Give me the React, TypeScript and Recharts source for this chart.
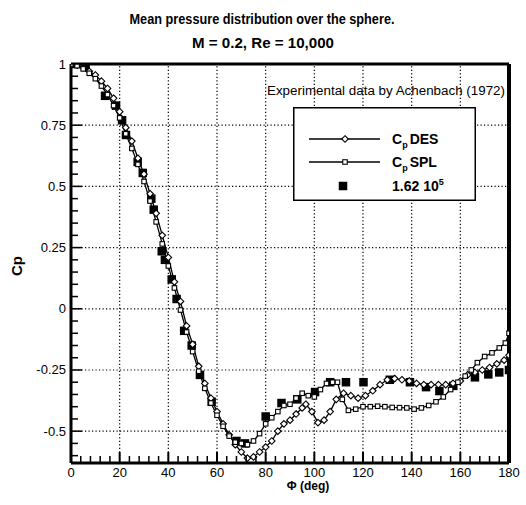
import React from 'react';
import { ComposedChart, Line, Scatter, XAxis, YAxis, ReferenceLine, Legend } from 'recharts';

const FONT = '"Liberation Sans", Arial, Helvetica, sans-serif';

// C_p DES (open diamonds)
const desPhi = [0, 2.5, 5, 7.5, 10, 12.5, 15, 17.5, 20, 22.5, 25, 27.5, 30, 32.5, 35, 37.5, 40, 42.5, 45, 47.5, 50, 52.5, 55, 57.5, 60, 62.5, 65, 67.5, 70, 72.5, 75, 77.5, 80, 82.5, 85, 87.5, 90, 92.5, 95, 96.5, 99, 101.5, 104, 106.5, 109, 112, 115, 118, 121, 124, 127, 130, 133, 136, 139, 142, 145, 148, 151, 154, 157, 160, 163, 166, 169, 172, 175, 178, 180];
const desCp = [1.0, 0.995, 0.985, 0.97, 0.955, 0.93, 0.9, 0.86, 0.805, 0.74, 0.685, 0.615, 0.55, 0.47, 0.39, 0.3, 0.21, 0.11, 0.03, -0.07, -0.145, -0.235, -0.305, -0.365, -0.42, -0.47, -0.515, -0.555, -0.585, -0.61, -0.605, -0.585, -0.565, -0.54, -0.5, -0.47, -0.455, -0.43, -0.405, -0.39, -0.42, -0.465, -0.455, -0.42, -0.37, -0.345, -0.355, -0.365, -0.355, -0.335, -0.31, -0.29, -0.285, -0.29, -0.295, -0.305, -0.31, -0.31, -0.31, -0.31, -0.305, -0.295, -0.27, -0.26, -0.25, -0.24, -0.225, -0.21, -0.19];

// C_p SPL (open squares)
const splPhi = [0, 2.5, 5, 7.5, 10, 12.5, 15, 17.5, 20, 22.5, 25, 27.5, 30, 32.5, 35, 37.5, 40, 42.5, 45, 47.5, 50, 52.5, 55, 57.5, 60, 62.5, 65, 67.5, 70, 72.5, 75, 77.5, 80, 82.5, 85, 87.5, 90, 92.5, 95, 97.5, 100, 102.5, 105, 107.5, 109.5, 111.5, 114, 117, 120, 123, 126, 129, 132, 135, 138, 141, 144, 147, 150, 153, 156, 159, 162, 164.5, 167, 170, 173, 176, 178.5, 180];
const splCp = [1.0, 0.993, 0.98, 0.962, 0.94, 0.91, 0.875, 0.83, 0.78, 0.715, 0.655, 0.59, 0.52, 0.44, 0.355, 0.265, 0.175, 0.085, -0.005, -0.095, -0.175, -0.255, -0.325, -0.385, -0.435, -0.48, -0.52, -0.545, -0.55, -0.555, -0.54, -0.51, -0.47, -0.445, -0.42, -0.395, -0.39, -0.365, -0.345, -0.355, -0.36, -0.33, -0.305, -0.3, -0.3, -0.37, -0.415, -0.41, -0.4, -0.4, -0.398, -0.4, -0.403, -0.404, -0.405, -0.41, -0.405, -0.395, -0.38, -0.36, -0.33, -0.3, -0.275, -0.25, -0.22, -0.195, -0.18, -0.16, -0.14, -0.1];

// Experimental data, Achenbach (1972), Re = 1.62e5 (filled squares)
const expPhi = [0, 6, 14, 18.5, 21, 22.6, 27.4, 29.5, 33, 34, 37.3, 38.6, 41.4, 43.4, 46.5, 49.6, 53, 57.8, 68, 71.5, 80, 86.5, 93, 100.3, 106.5, 113, 120.2, 131, 139.3, 145.9, 151.4, 157.1, 166, 171.5, 176, 180];
const expCp = [1.0, 0.99, 0.87, 0.83, 0.77, 0.71, 0.6, 0.555, 0.45, 0.405, 0.235, 0.2, 0.12, 0.04, -0.09, -0.15, -0.27, -0.38, -0.54, -0.55, -0.44, -0.385, -0.37, -0.34, -0.3, -0.3, -0.3, -0.29, -0.3, -0.32, -0.336, -0.315, -0.28, -0.268, -0.26, -0.25];

const xMajorTicks = [0, 20, 40, 60, 80, 100, 120, 140, 160, 180];
const xAllTicks = [0, 4, 8, 12, 16, 20, 24, 28, 32, 36, 40, 44, 48, 52, 56, 60, 64, 68, 72, 76, 80, 84, 88, 92, 96, 100, 104, 108, 112, 116, 120, 124, 128, 132, 136, 140, 144, 148, 152, 156, 160, 164, 168, 172, 176, 180];
const yMajorTicks = [-0.5, -0.25, 0, 0.25, 0.5, 0.75, 1];
const yMajorLabels = ['-0.5', '-0.25', '0', '0.25', '0.5', '0.75', '1'];
const yAllTicks = [-0.6, -0.55, -0.5, -0.45, -0.4, -0.35, -0.3, -0.25, -0.2, -0.15, -0.1, -0.05, 0, 0.05, 0.1, 0.15, 0.2, 0.25, 0.3, 0.35, 0.4, 0.45, 0.5, 0.55, 0.6, 0.65, 0.7, 0.75, 0.8, 0.85, 0.9, 0.95, 1];
const xGrid = [20, 40, 60, 80, 100, 120, 140, 160];
const yGrid = [-0.5, -0.25, 0, 0.25, 0.5, 0.75];

const desData = desPhi.map((phi, i) => ({ phi, cp: desCp[i] }));
const splData = splPhi.map((phi, i) => ({ phi, cp: splCp[i] }));
const expData = expPhi.map((phi, i) => ({ phi, cp: expCp[i] }));

const DiamondDot = (props: any) => {
  const { cx, cy } = props;
  if (cx == null || cy == null) return null;
  const r = 3.3;
  return (
    <path
      key={props.key}
      d={`M${cx},${cy - r}L${cx + r},${cy}L${cx},${cy + r}L${cx - r},${cy}Z`}
      fill="#fff"
      stroke="#000"
      strokeWidth={1.1}
    />
  );
};

const SquareDot = (props: any) => {
  const { cx, cy } = props;
  if (cx == null || cy == null) return null;
  const s = 4.5;
  return <rect key={props.key} x={cx - s / 2} y={cy - s / 2} width={s} height={s} fill="#fff" stroke="#000" strokeWidth={1.1} />;
};

const ExpSquare = (props: any) => {
  const { cx, cy } = props;
  if (cx == null || cy == null) return null;
  const s = 8.5;
  return <rect x={cx - s / 2} y={cy - s / 2} width={s} height={s} fill="#000" />;
};

const XTick = (props: any) => {
  const { x, y, payload } = props;
  const v = payload.value;
  const major = xMajorTicks.includes(v);
  return (
    <g>
      <line x1={x} x2={x} y1={y} y2={y - (major ? 11 : 7)} stroke="#000" strokeWidth={major ? 2 : 1.5} />
      {major && (
        <text x={x} y={y + 14} textAnchor="middle" fontFamily={FONT} fontSize={13} fill="#000">
          {v}
        </text>
      )}
    </g>
  );
};

const YTick = (props: any) => {
  const { x, y, payload } = props;
  const v = payload.value;
  const idx = yMajorTicks.findIndex((t) => Math.abs(t - v) < 1e-6);
  const major = idx >= 0;
  return (
    <g>
      <line x1={x} x2={x + (major ? 11 : 7)} y1={y} y2={y} stroke="#000" strokeWidth={1.5} />
      {major && (
        <text x={x - 5} y={y + 4.5} textAnchor="end" fontFamily={FONT} fontSize={13} fill="#000">
          {yMajorLabels[idx]}
        </text>
      )}
    </g>
  );
};

const LegendBox = () => (
  <svg width={183} height={94} style={{ display: 'block' }}>
    <rect x={0.75} y={0.75} width={181.5} height={92.5} fill="#fff" stroke="#000" strokeWidth={1.5} />
    <line x1={16} x2={87} y1={32} y2={32} stroke="#000" strokeWidth={1.3} />
    <DiamondDot cx={52} cy={32} />
    <text x={99} y={37} fontFamily={FONT} fontWeight="bold" fontSize={14} fill="#000">
      C<tspan fontSize={9} dy={4}>p</tspan>
      <tspan dy={-4} dx={2}>DES</tspan>
    </text>
    <line x1={16} x2={87} y1={55} y2={55} stroke="#000" strokeWidth={1.3} />
    <SquareDot cx={52} cy={55} />
    <text x={99} y={60} fontFamily={FONT} fontWeight="bold" fontSize={14} fill="#000">
      C<tspan fontSize={9} dy={4}>p</tspan>
      <tspan dy={-4} dx={2}>SPL</tspan>
    </text>
    <ExpSquare cx={50} cy={79} />
    <text x={99} y={84} fontFamily={FONT} fontWeight="bold" fontSize={14} fill="#000">
      1.62 10<tspan fontSize={9} dy={-6}>5</tspan>
    </text>
  </svg>
);

export default function App() {
  return (
    <div style={{ position: 'absolute', left: 0, top: 0, width: 526, height: 505, background: '#fff' }}>
      <ComposedChart width={526} height={505} margin={{ top: 64, right: 17, bottom: 12, left: 11 }}>
        <XAxis
          dataKey="phi"
          type="number"
          domain={[0, 180]}
          ticks={xAllTicks}
          interval={0}
          tickSize={0}
          tickMargin={0}
          height={30}
          tick={<XTick />}
          axisLine={{ stroke: '#000', strokeWidth: 3 }}
          allowDataOverflow
        />
        <YAxis
          type="number"
          domain={[-0.63, 1]}
          ticks={yAllTicks}
          interval={0}
          tickSize={0}
          tickMargin={0}
          width={60}
          tick={<YTick />}
          axisLine={{ stroke: '#000', strokeWidth: 3 }}
          allowDataOverflow
        />
        {xGrid.map((v) => (
          <ReferenceLine key={'gx' + v} x={v} stroke="#000" strokeWidth={1.2} strokeDasharray="1.2 2.3" />
        ))}
        {yGrid.map((v) => (
          <ReferenceLine key={'gy' + v} y={v} stroke="#000" strokeWidth={1.2} strokeDasharray="1.2 2.3" />
        ))}
        <ReferenceLine y={1} stroke="#000" strokeWidth={3} />
        <ReferenceLine x={180} stroke="#000" strokeWidth={4} />
        <Line
          data={desData}
          dataKey="cp"
          type="linear"
          stroke="#000"
          strokeWidth={1.3}
          dot={<DiamondDot />}
          isAnimationActive={false}
          legendType="none"
        />
        <Line
          data={splData}
          dataKey="cp"
          type="linear"
          stroke="#000"
          strokeWidth={1.3}
          dot={<SquareDot />}
          isAnimationActive={false}
          legendType="none"
        />
        <Scatter data={expData} dataKey="cp" shape={<ExpSquare />} isAnimationActive={false} legendType="none" />
        <Legend
          layout="horizontal"
          verticalAlign="middle"
          align="center"
          content={<LegendBox />}
          wrapperStyle={{ left: 293, top: 107, width: 183, height: 94 }}
        />
      </ComposedChart>
      <svg
        width={526}
        height={505}
        style={{ position: 'absolute', left: 0, top: 0, pointerEvents: 'none' }}
      >
        <text x={262} y={24} textAnchor="middle" fontFamily={FONT} fontWeight="bold" fontSize={15} textLength={265} lengthAdjust="spacingAndGlyphs" fill="#000">
          Mean pressure distribution over the sphere.
        </text>
        <text x={263} y={48} textAnchor="middle" fontFamily={FONT} fontWeight="bold" fontSize={15} textLength={142} lengthAdjust="spacingAndGlyphs" fill="#000">
          M = 0.2, Re = 10,000
        </text>
        <text x={386} y={95} textAnchor="middle" fontFamily={FONT} fontSize={12} textLength={238} lengthAdjust="spacingAndGlyphs" fill="#000">
          Experimental data by Achenbach (1972)
        </text>
        <text x={308} y={490} textAnchor="middle" fontFamily={FONT} fontWeight="bold" fontSize={12} fill="#000">
          Φ (deg)
        </text>
        <text x={0} y={0} transform="translate(22,266) rotate(-90)" textAnchor="middle" fontFamily={FONT} fontWeight="bold" fontSize={15} fill="#000">
          Cp
        </text>
      </svg>
    </div>
  );
}
